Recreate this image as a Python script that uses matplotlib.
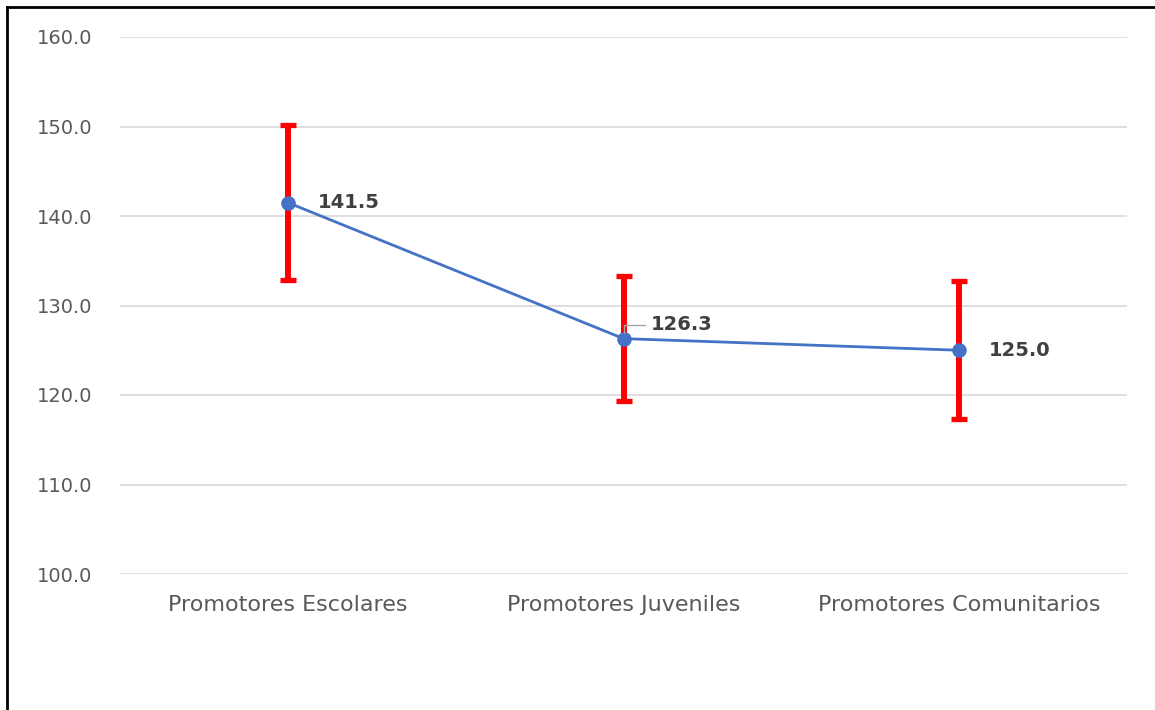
import matplotlib
matplotlib.use("Agg")
import matplotlib.pyplot as plt
from matplotlib.lines import Line2D

categories = ["Promotores Escolares", "Promotores Juveniles", "Promotores Comunitarios"]
means = [141.5, 126.3, 125.0]
errors = [8.7, 7.0, 7.7]
yticks = [100, 110, 120, 130, 140, 150, 160]

plt.rcParams['font.family'] = ['DejaVu Sans']

fig = plt.figure(figsize=(11.55, 7.1), dpi=100)
ax = fig.add_axes([120/1155, 1-574/710, (1127-120)/1155, (574-37)/710])

x = list(range(len(categories)))
ax.errorbar(x, means, yerr=errors, fmt='none', ecolor='#FF0000', elinewidth=4.3,
            capsize=5.8, capthick=3.8, zorder=2)
ax.plot(x, means, color='#4472C4', linewidth=2, marker='o', markersize=9.5, zorder=3)

ax.set_xlim(-0.5, 2.5)
ax.set_ylim(100, 160)
ax.set_yticks(yticks)
ax.set_yticklabels([f"{v:.1f}" for v in yticks], color='#595959', fontsize=14)
ax.set_xticks(x)
ax.set_xticklabels(categories, color='#595959', fontsize=16)
ax.tick_params(axis='both', length=0)
ax.tick_params(axis='y', pad=20)
ax.tick_params(axis='x', pad=15)
ax.grid(axis='y', color='#D9D9D9', linewidth=1.2)
ax.set_axisbelow(True)
for s in ax.spines.values():
    s.set_visible(False)

# data labels
offsets = [(21.5, 0), (19.5, 10), (21, 0)]
for i, (xi, m, (dx, dy)) in enumerate(zip(x, means, offsets)):
    kw = {}
    if dy != 0:
        kw['arrowprops'] = dict(arrowstyle='-', color='#A6A6A6', lw=1, shrinkA=2, shrinkB=4,
                                relpos=(0, 0.5),
                                connectionstyle="angle,angleA=0,angleB=90,rad=0")
    ax.annotate(f"{m:.1f}", xy=(xi, m), xytext=(dx, dy), textcoords='offset points',
                ha='left', va='center', fontsize=14, fontweight='bold', color='#404040', **kw)

# figure border (top and left visible)
fig.add_artist(Line2D([7/1155, 7/1155], [0, 1-7/710], transform=fig.transFigure, color='black', lw=2))
fig.add_artist(Line2D([7/1155, 1], [1-7/710, 1-7/710], transform=fig.transFigure, color='black', lw=2))

fig.savefig("out.png", dpi=100)
